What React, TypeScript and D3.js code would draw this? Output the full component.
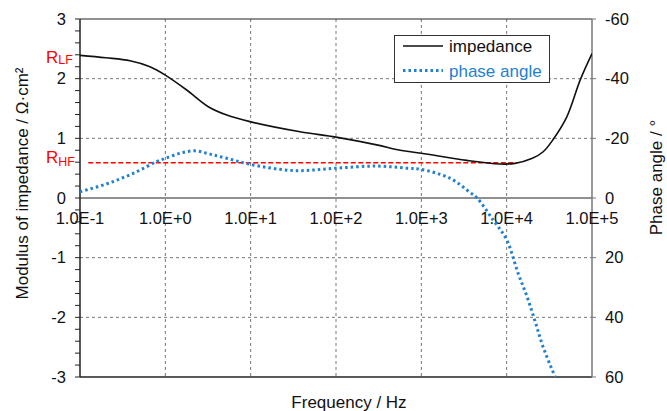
import React from 'react';
import * as d3 from 'd3';

// impedance modulus (Ohm cm2) vs frequency (Hz)
const zFreq = [0.1, 0.2, 0.386, 0.66, 1.0, 1.78, 3.19, 5.25, 9.8, 38, 100, 300, 564, 1000, 3410, 8300, 12500, 20000, 26800, 35000, 50700, 72800, 100000];
const zMod = [2.39, 2.35, 2.30, 2.20, 2.06, 1.81, 1.53, 1.39, 1.28, 1.11, 1.02, 0.89, 0.80, 0.75, 0.63, 0.57, 0.58, 0.665, 0.775, 0.98, 1.36, 1.98, 2.42];

// phase angle (deg) vs frequency (Hz)
const pFreq = [0.1, 0.224, 0.46, 0.79, 1.0, 1.49, 2.22, 3.34, 5.25, 9.8, 31.8, 100, 300, 680, 1000, 2180, 3740, 4500, 6950, 10000, 13600, 17400, 21600, 26800, 37000];
const pAngle = [-2.1, -5.1, -8.8, -12.2, -13.3, -15.0, -15.8, -14.7, -13.3, -11.3, -9.2, -10.0, -10.7, -10.0, -9.6, -6.6, -1.8, 0, 7.4, 14, 25.2, 33.2, 41.5, 50, 60];

// resistance markers
const rhfFreq = [0.125, 13000];
const rhfValue = 0.59;
const rlfValue = 2.39;

const xTicks = [0.1, 1, 10, 100, 1000, 10000, 100000];
const xTickLabels = ['1.0E-1', '1.0E+0', '1.0E+1', '1.0E+2', '1.0E+3', '1.0E+4', '1.0E+5'];
const yLeftTicks = [-3, -2, -1, 0, 1, 2, 3];
const yRightTicks = [-60, -40, -20, 0, 20, 40, 60];

const W = 667;
const H = 411;
const margin = { top: 19, right: 75, bottom: 34, left: 80 };
const FONT = '"Liberation Sans", Arial, sans-serif';
const BLUE = '#1f7fd0';

export default function App() {
  const x = d3.scaleLog().domain([0.1, 1e5]).range([margin.left, W - margin.right]);
  const yL = d3.scaleLinear().domain([-3, 3]).range([H - margin.bottom, margin.top]);
  const yR = d3.scaleLinear().domain([-60, 60]).range([margin.top, H - margin.bottom]);

  const x0 = x.range()[0];
  const x1 = x.range()[1];
  const yTop = yL(3);
  const yBot = yL(-3);

  const zLine = d3
    .line<number>()
    .x((_, i) => x(zFreq[i]))
    .y(d => yL(d))
    .curve(d3.curveCatmullRom.alpha(0.5));

  const pLine = d3
    .line<number>()
    .x((_, i) => x(pFreq[i]))
    .y(d => yR(d))
    .curve(d3.curveCatmullRom.alpha(0.5));

  const minorTicks = d3.range(-3, 3.001, 0.2);

  return (
    <svg
      width={W}
      height={H}
      style={{ position: 'absolute', left: 0, top: 0, background: '#fff' }}
      fontFamily={FONT}
    >
      <defs>
        <clipPath id="plot">
          <rect x={x0} y={yTop} width={x1 - x0} height={yBot - yTop} />
        </clipPath>
      </defs>

      {/* grid */}
      {xTicks.slice(1, -1).map(t => (
        <line key={'gx' + t} x1={x(t)} x2={x(t)} y1={yTop} y2={yBot} stroke="#777" strokeDasharray="3,3" />
      ))}
      {yLeftTicks.filter(t => t !== 0 && Math.abs(t) !== 3).map(t => (
        <line key={'gy' + t} x1={x0} x2={x1} y1={yL(t)} y2={yL(t)} stroke="#777" strokeDasharray="3,3" />
      ))}

      {/* frame */}
      <line x1={x0} x2={x1} y1={yTop} y2={yTop} stroke="#222" strokeWidth={1.2} />
      <line x1={x0} x2={x1} y1={yBot} y2={yBot} stroke="#222" strokeWidth={1.5} />
      <line x1={x0} x2={x1} y1={yL(0)} y2={yL(0)} stroke="#222" strokeWidth={1.2} />
      <line x1={x0} x2={x0} y1={yTop} y2={yBot} stroke="#222" strokeWidth={1.5} />
      <line x1={x1} x2={x1} y1={yTop} y2={yBot} stroke="#777" strokeWidth={1.5} />

      {/* left axis */}
      {minorTicks.map((t, i) => (
        <line key={'mt' + i} x1={x0 - 5} x2={x0} y1={yL(t)} y2={yL(t)} stroke="#222" />
      ))}
      {yLeftTicks.map(t => (
        <text key={'yl' + t} x={66} y={yL(t)} dy="0.35em" textAnchor="end" fontSize={16.5} fill="#111">
          {t}
        </text>
      ))}

      {/* right axis */}
      {yRightTicks.map(t => (
        <g key={'yr' + t}>
          <line x1={x1} x2={x1 + 4} y1={yR(t)} y2={yR(t)} stroke="#777" />
          <text x={605} y={yR(t)} dy="0.35em" fontSize={16.5} fill="#111">
            {t}
          </text>
        </g>
      ))}

      {/* x tick labels */}
      {xTicks.map((t, i) => (
        <text key={'xl' + t} x={x(t)} y={224} textAnchor="middle" fontSize={16.5} fill="#111">
          {xTickLabels[i]}
        </text>
      ))}

      {/* data */}
      <g clipPath="url(#plot)">
        <line
          x1={x(rhfFreq[0])}
          x2={x(rhfFreq[1])}
          y1={yL(rhfValue)}
          y2={yL(rhfValue)}
          stroke="#ff0000"
          strokeWidth={1.5}
          strokeDasharray="5,2.5"
        />
        <path d={zLine(zMod) || ''} fill="none" stroke="#111" strokeWidth={1.6} />
        <path
          d={pLine(pAngle) || ''}
          fill="none"
          stroke={BLUE}
          strokeWidth={3}
          strokeDasharray="2.5,3"
        />
      </g>

      {/* R labels */}
      <text x={46} y={yL(rlfValue) + 8} fill="#ff0000" fontSize={17}>
        R<tspan fontSize={12.5} dy={1}>LF</tspan>
      </text>
      <text x={46} y={yL(rhfValue)} fill="#ff0000" fontSize={17}>
        R<tspan fontSize={12.5} dy={3}>HF</tspan>
      </text>

      {/* legend */}
      <rect x={394.5} y={35.5} width={155} height={47} fill="#fff" stroke="#333" strokeWidth={1} />
      <line x1={403} x2={443} y1={46} y2={46} stroke="#111" strokeWidth={1.6} />
      <text x={449} y={52} fontSize={17} fill="#111">impedance</text>
      <line x1={403} x2={443} y1={70.5} y2={70.5} stroke={BLUE} strokeWidth={3} strokeDasharray="2.5,3" />
      <text x={449} y={76.5} fontSize={17} fill={BLUE}>phase angle</text>

      {/* axis titles */}
      <text x={349} y={408} textAnchor="middle" fontSize={17} fill="#111">
        Frequency / Hz
      </text>
      <text transform="translate(28,183.5) rotate(-90)" textAnchor="middle" fontSize={17} fill="#111">
        Modulus of impedance / Ω·cm²
      </text>
      <text transform="translate(662,177.5) rotate(-90)" textAnchor="middle" fontSize={17} fill="#111">
        Phase angle / °
      </text>
    </svg>
  );
}
